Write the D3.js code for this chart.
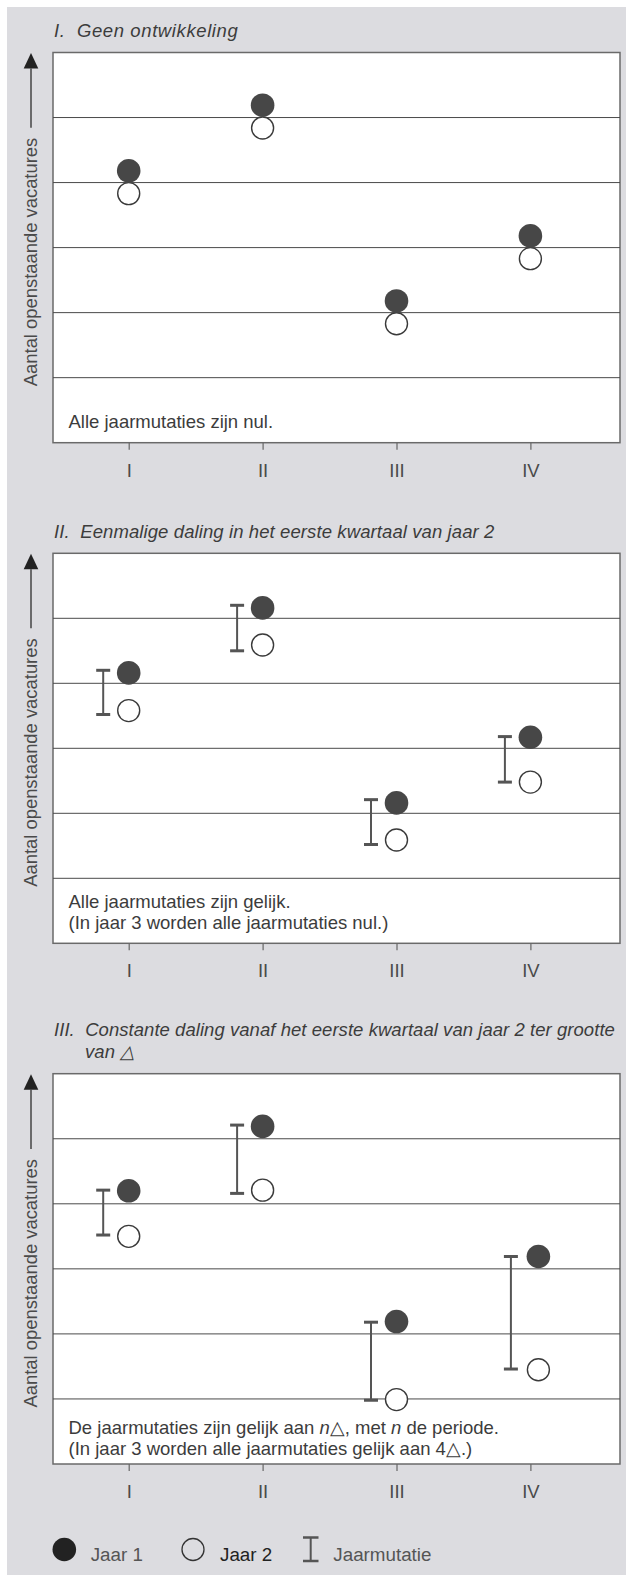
<!DOCTYPE html>
<html><head><meta charset="utf-8">
<script src="https://cdn.jsdelivr.net/npm/d3@7/dist/d3.min.js"></script>
<style>html,body{margin:0;padding:0;background:#fff;}svg{display:block;}</style>
</head><body>
<script>
// ---- data ----
const quarters = ["I", "II", "III", "IV"];
const gridLevels = [1, 2, 3, 4, 5];

const titles = [
  ["I.  Geen ontwikkeling"],
  ["II.  Eenmalige daling in het eerste kwartaal van jaar 2"],
  ["III.  Constante daling vanaf het eerste kwartaal van jaar 2 ter grootte", "van \u25B3"]
];
const notes = [
  [[{t: "Alle jaarmutaties zijn nul."}]],
  [[{t: "Alle jaarmutaties zijn gelijk."}], [{t: "(In jaar 3 worden alle jaarmutaties nul.)"}]],
  [[{t: "De jaarmutaties zijn gelijk aan "}, {t: "n", i: true}, {t: "\u25B3, met "}, {t: "n", i: true}, {t: " de periode."}],
   [{t: "(In jaar 3 worden alle jaarmutaties gelijk aan 4\u25B3.)"}]]
];
const yLabel = "Aantal openstaande vacatures";

const p1Jaar1 = [4.18, 5.19, 2.18, 3.18];
const p1Jaar2 = [3.83, 4.84, 1.83, 2.83];

const p2Jaar1 = [4.16, 5.16, 2.16, 3.17];
const p2Jaar2 = [3.58, 4.59, 1.59, 2.48];
const p2MutTop = [4.20, 5.20, 2.21, 3.18];
const p2MutBottom = [3.52, 4.50, 1.52, 2.48];

const p3Jaar1 = [4.20, 5.19, 2.19, 3.19];
const p3Jaar2 = [3.50, 4.21, 0.99, 1.45];
const p3MutTop = [4.21, 5.21, 2.18, 3.19];
const p3MutBottom = [3.52, 4.16, 0.98, 1.46];

const legendLabels = ["Jaar 1", "Jaar 2", "Jaarmutatie"];

// ---- layout ----
const W = 626, H = 1575;
const FONT = "'Liberation Sans', Arial, Helvetica, sans-serif";
const titleSpacing = [0.6, 0.1, 0.05];
const panels = [
  {top: 52.5, bottom: 442.7, j1: p1Jaar1, j2: p1Jaar2, mt: null, mb: null, shift: [0,0,0,0], barShift: [0,0,0,0]},
  {top: 553.3, bottom: 943.3, j1: p2Jaar1, j2: p2Jaar2, mt: p2MutTop, mb: p2MutBottom, shift: [0,0,0,0], barShift: [0,0,0,0]},
  {top: 1073.7, bottom: 1464.0, j1: p3Jaar1, j2: p3Jaar2, mt: p3MutTop, mb: p3MutBottom, shift: [0,0,0,8], barShift: [0,0,0,6]}
];
const boxLeft = 53, boxRight = 620;

const svg = d3.select("body").append("svg").attr("width", W).attr("height", H);
svg.append("rect").attr("x", 7).attr("y", 7).attr("width", W - 7).attr("height", H - 7).attr("fill", "#dcdce0");

const x = d3.scaleLinear().domain([1, 4]).range([128.7, 530.4]);

panels.forEach((p, pi) => {
  const g = svg.append("g");
  const y = d3.scaleLinear().domain([0, 6]).range([p.bottom, p.top]);

  // title
  const tl = titles[pi];
  const titleBase = p.top - 15.5 - (tl.length - 1) * 22;
  tl.forEach((line, li) => {
    g.append("text").attr("x", li === 0 ? 54 : 85).attr("y", titleBase + li * 22)
      .attr("font-family", FONT).attr("font-size", 18.5).attr("font-style", "italic")
      .attr("letter-spacing", titleSpacing[pi])
      .attr("fill", "#3c3c3c").attr("xml:space", "preserve").style("white-space", "pre").text(line);
  });

  // box
  g.append("rect").attr("x", boxLeft).attr("y", p.top).attr("width", boxRight - boxLeft).attr("height", p.bottom - p.top)
    .attr("fill", "#fff").attr("stroke", "#6a6a6a").attr("stroke-width", 1.5);

  // gridlines
  g.selectAll(".grid").data(gridLevels).join("line")
    .attr("x1", boxLeft).attr("x2", boxRight)
    .attr("y1", d => y(d)).attr("y2", d => y(d))
    .attr("stroke", "#4a4a4a").attr("stroke-width", 1);

  // x axis
  const ax = g.append("g").attr("transform", `translate(0,${p.bottom})`)
    .call(d3.axisBottom(x).tickValues([1, 2, 3, 4]).tickFormat((d, i) => quarters[i]).tickSize(7).tickPadding(14));
  ax.select(".domain").remove();
  ax.selectAll(".tick line").attr("stroke", "#666").attr("stroke-width", 1.2);
  ax.selectAll(".tick text").attr("font-family", FONT).attr("font-size", 18.5).attr("fill", "#4a4a4a");

  // y label + arrow
  const lx = 36.7, ly = p.bottom - 56.5;
  const lab = g.append("text").attr("transform", `translate(${lx},${ly}) rotate(-90)`)
    .attr("font-family", FONT).attr("font-size", 18.4).attr("fill", "#4a4a4a").text(yLabel);
  const len = lab.node().getComputedTextLength();
  const lineX = 31;
  const tipY = p.top + 0.5, baseY = tipY + 15.5;
  g.append("line").attr("x1", lineX).attr("x2", lineX).attr("y1", ly - len - 10).attr("y2", baseY)
    .attr("stroke", "#444").attr("stroke-width", 1.5);
  g.append("path").attr("d", `M${lineX},${tipY} L${lineX - 7.3},${baseY} L${lineX + 7.3},${baseY} Z`).attr("fill", "#222");

  // note text
  const nl = notes[pi];
  const noteBase = pi === 2 ? p.bottom - 9.5 : p.bottom - 14.5;
  nl.forEach((line, li) => {
    const t = g.append("text").attr("x", 68.5).attr("y", noteBase - (nl.length - 1 - li) * 21)
      .attr("font-family", FONT).attr("font-size", 18.5).attr("fill", "#3c3c3c").attr("xml:space", "preserve").style("white-space", "pre");
    line.forEach(s => t.append("tspan").attr("font-style", s.i ? "italic" : "normal").text(s.t));
  });

  // mutation bars
  if (p.mt) {
    const bars = g.selectAll(".bar").data(quarters.map((q, i) => ({i, top: p.mt[i], bot: p.mb[i]}))).join("g");
    bars.each(function (d) {
      const bx = x(d.i + 1) - 25.5 + p.barShift[d.i];
      const s = d3.select(this);
      s.append("line").attr("x1", bx).attr("x2", bx).attr("y1", y(d.top)).attr("y2", y(d.bot)).attr("stroke", "#555").attr("stroke-width", 2);
      [d.top, d.bot].forEach(v => s.append("line").attr("x1", bx - 7).attr("x2", bx + 7).attr("y1", y(v)).attr("y2", y(v))
        .attr("stroke", "#555").attr("stroke-width", 3));
    });
  }

  // points
  g.selectAll(".j2").data(p.j2).join("circle")
    .attr("cx", (d, i) => x(i + 1) + p.shift[i]).attr("cy", d => y(d)).attr("r", 11)
    .attr("fill", "#fff").attr("stroke", "#3a3a3a").attr("stroke-width", 1.4);
  g.selectAll(".j1").data(p.j1).join("circle")
    .attr("cx", (d, i) => x(i + 1) + p.shift[i]).attr("cy", d => y(d)).attr("r", 11.8)
    .attr("fill", "#474747");
});

// legend
const lg = svg.append("g");
const legY = 1549.5;
lg.append("circle").attr("cx", 64.3).attr("cy", legY).attr("r", 11.8).attr("fill", "#222");
lg.append("circle").attr("cx", 193).attr("cy", legY).attr("r", 11).attr("fill", "none").attr("stroke", "#333").attr("stroke-width", 1.3);
lg.append("line").attr("x1", 310.7).attr("x2", 310.7).attr("y1", legY - 12).attr("y2", legY + 11.5).attr("stroke", "#555").attr("stroke-width", 2);
[legY - 12, legY + 11.5].forEach(v => lg.append("line").attr("x1", 303).attr("x2", 318.5).attr("y1", v).attr("y2", v).attr("stroke", "#555").attr("stroke-width", 2.5));
const legX = [90.7, 220, 333.3];
const legCol = ["#555", "#222", "#555"];
legendLabels.forEach((t, i) => lg.append("text").attr("x", legX[i]).attr("y", 1560.5)
  .attr("font-family", FONT).attr("font-size", 18.8).attr("fill", legCol[i]).text(t));
</script>
</body></html>
